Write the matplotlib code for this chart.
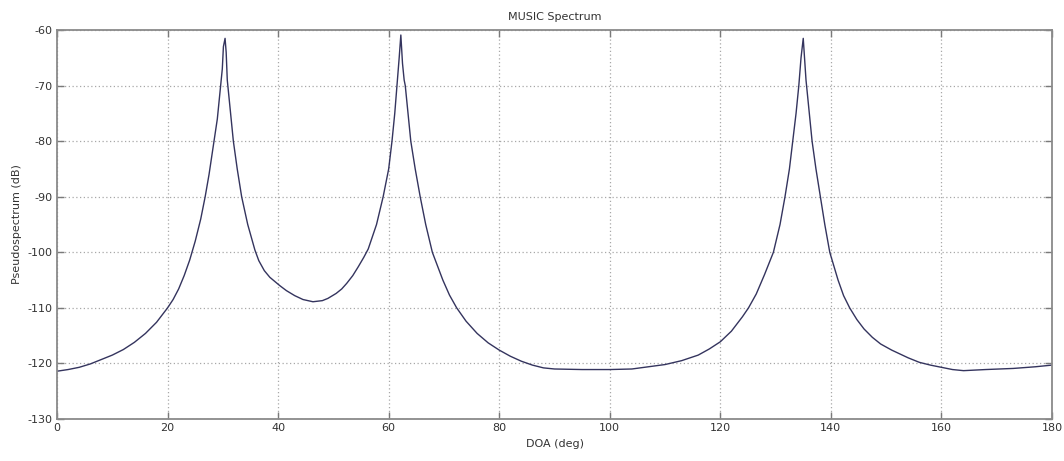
import numpy as np
import matplotlib.pyplot as plt

plt.rcParams['axes.unicode_minus'] = False

# values
doa = [0, 2, 4, 6, 8, 10, 12, 14, 16, 18, 20, 21, 22, 23, 24, 25, 26, 26.8, 27.5,
       28.4, 29, 29.6, 29.9, 30.1, 30.4, 30.6, 30.8, 30.9, 31.4, 31.9, 32.6, 33.4,
       34.5, 35.8, 36.5, 37.5, 38.5, 40.3, 41.5, 43, 44.5, 46.3, 48, 49, 50.5, 51.5,
       52.4, 53.5, 54.5, 55.5, 56.3, 57.8, 59, 60, 60.6,
       61.1, 61.5, 61.9, 62.2, 62.5, 62.8, 63, 63.5, 64, 64.8, 65.7, 66.7, 67.9,
       69.8, 71, 72.3, 74, 76, 78, 80, 82, 84, 86, 88, 90, 95, 100, 104, 107, 110,
       113, 116, 118, 120, 122, 124, 125.1, 126.5, 128, 129.6, 130.8, 131.7, 132.5,
       133.1, 133.7, 134.2, 134.6, 135.0, 135.3, 135.5, 135.6, 136.1, 136.6, 137.3,
       138.1, 138.9, 139.8, 141.3, 142.3, 143.4, 144.7, 146, 147.5, 149, 151, 152.5,
       154, 156, 158, 160, 162, 164, 168, 173, 177, 180]
p_db = [-121.4, -121.1, -120.7, -120.1, -119.3, -118.5, -117.5, -116.2, -114.6,
        -112.6, -110.0, -108.5, -106.6, -104.2, -101.4, -98.0, -94.0, -90.0, -86.0,
        -80.0, -76.0, -70.0, -67.0, -63.0, -61.5, -64.0, -69.0, -70.0, -75.0, -80.0,
        -85.0, -90.0, -95.0, -99.6, -101.5, -103.3, -104.5, -106.0, -106.9, -107.8,
        -108.5, -108.9, -108.7, -108.3, -107.4, -106.6, -105.6, -104.2, -102.6,
        -100.9, -99.4, -95.0, -90.0, -85.0, -80.0, -75.0, -70.0, -65.0, -60.9,
        -66.0, -69.0, -70.0, -75.0, -80.0, -85.0, -90.0, -95.0, -100.0, -105.0,
        -107.7, -110.0, -112.4, -114.6, -116.3, -117.6, -118.7, -119.6, -120.3,
        -120.8, -121.0, -121.1, -121.1, -121.0, -120.6, -120.2, -119.5, -118.5,
        -117.4, -116.1, -114.2, -111.6, -110.0, -107.5, -104.0, -100.0, -95.0,
        -90.0, -85.0, -80.0, -75.0, -70.0, -65.0, -61.5, -66.0, -69.0, -70.0,
        -75.0, -80.0, -85.0, -90.0, -95.0, -100.0, -105.0, -107.8, -110.0, -112.1,
        -113.8, -115.3, -116.5, -117.6, -118.3, -119.0, -119.8, -120.3, -120.7,
        -121.1, -121.3, -121.1, -120.9, -120.6, -120.3]

x_ticks = list(range(0, 181, 20))
y_ticks = list(range(-130, -59, 10))

fig = plt.figure(figsize=(10.64, 4.61), dpi=100)
ax = fig.add_axes([0.0536, 0.0911, 0.9351, 0.8438])

ax.plot(doa, p_db, color='#34345e', linewidth=1.0)

ax.set_xlim(0, 180)
ax.set_ylim(-130, -60)
ax.set_xticks(x_ticks)
ax.set_yticks(y_ticks)
ax.grid(True, linestyle=(0, (1, 2)), color='#a8a8a8', linewidth=0.9)

ax.tick_params(direction='in', length=5, width=1, colors='#7a7a7a',
               labelcolor='#333333', labelsize=8, top=True, right=True, pad=3)
for s in ax.spines.values():
    s.set_color('#8a8a8a')
    s.set_linewidth(1.3)

ax.set_title('MUSIC Spectrum', fontsize=8, color='#333333', pad=7)
ax.set_xlabel('DOA (deg)', fontsize=8, color='#333333', labelpad=4)
ax.set_ylabel('Pseudospectrum (dB)', fontsize=8, color='#333333', labelpad=4)

fig.savefig('out.png', dpi=100, facecolor='white')
